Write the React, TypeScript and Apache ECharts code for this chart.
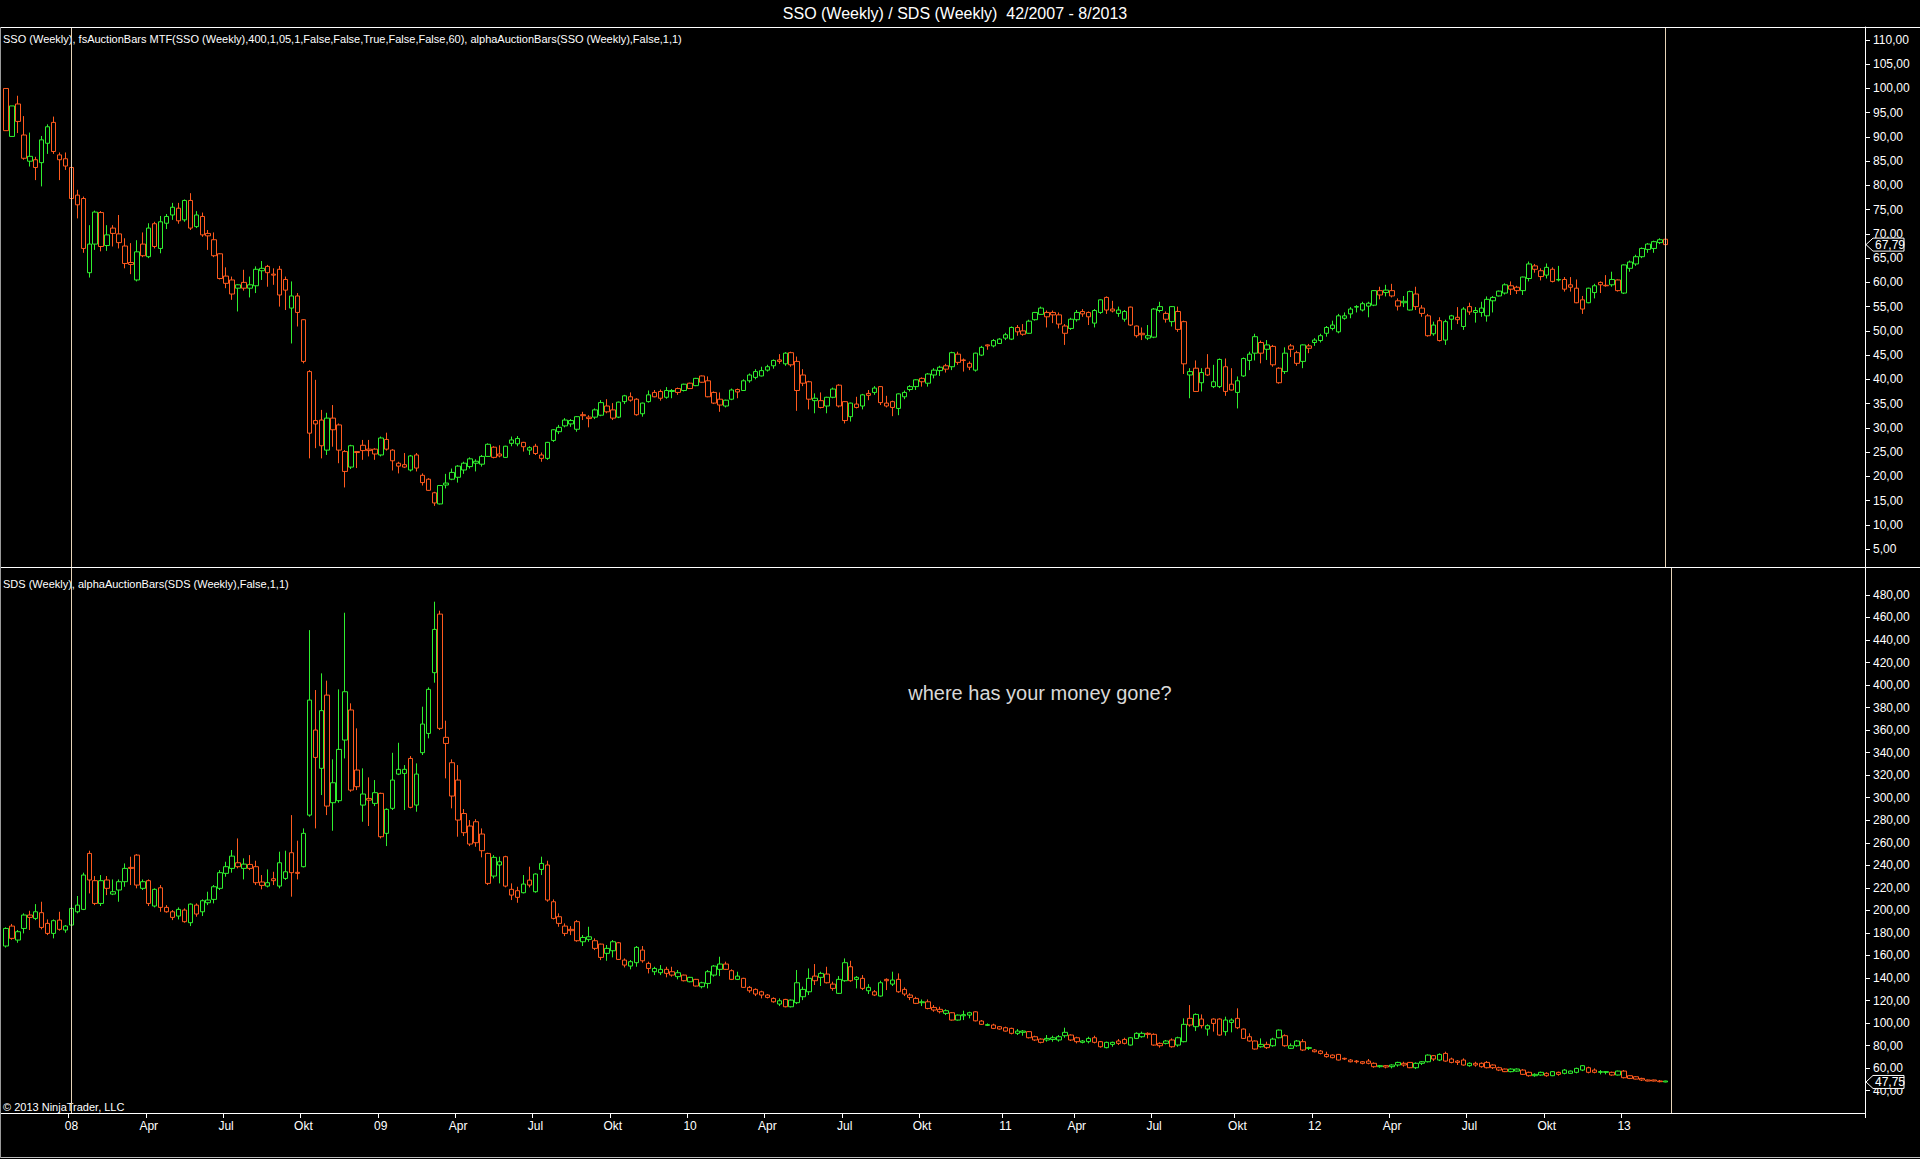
import React, { useEffect, useRef } from "react";
import * as echarts from "echarts";

const TITLE = "SSO (Weekly) / SDS (Weekly)  42/2007 - 8/2013";
const SSO_INFO =
  "SSO (Weekly), fsAuctionBars MTF(SSO (Weekly),400,1,05,1,False,False,True,False,False,60), alphaAuctionBars(SSO (Weekly),False,1,1)";
const SDS_INFO = "SDS (Weekly), alphaAuctionBars(SDS (Weekly),False,1,1)";
const NOTE = "where has your money gone?";
const COPYRIGHT = "\u00A9 2013 NinjaTrader, LLC";

// first weekly bar: week 42/2007, stamped Friday 19 Oct 2007
const FIRST_BAR_DATE = [2007, 9, 19];
const SLOT_COUNT = 313;
const MONTH_LABELS: Record<number, string> = { 3: "Apr", 6: "Jul", 9: "Okt" };

const SSO_TICKS = [5, 10, 15, 20, 25, 30, 35, 40, 45, 50, 55, 60, 65, 70, 75, 80, 85, 90, 95, 100, 105, 110];
const SDS_TICKS = [40, 60, 80, 100, 120, 140, 160, 180, 200, 220, 240, 260, 280, 300, 320, 340, 360, 380, 400, 420, 440, 460, 480];
const SSO_RANGE = [1.29, 112.68];
const SDS_RANGE = [20.2, 504.8];
const SSO_LAST = 67.79;
const SDS_LAST = 47.75;
const SSO_MARKERS = [11, 279];
const SDS_MARKERS = [11, 280];

// [open, close, low, high]
const SSO: number[][] = [
  [100.0, 91.3, 91.3, 100.0], [90.1, 96.4, 90.1, 96.4], [93.2, 96.8, 90.8, 98.5], [90.4, 85.6, 85.3, 94.3], [86.0, 85.0, 83.9, 90.9],
  [83.7, 85.3, 81.1, 85.9], [84.7, 89.4, 79.8, 90.2], [88.7, 92.1, 86.5, 92.6], [87.0, 93.0, 86.5, 94.2], [85.3, 86.3, 81.1, 86.8],
  [84.0, 85.5, 83.2, 86.8], [83.7, 77.3, 77.0, 84.0], [78.0, 76.0, 73.2, 79.1], [77.3, 67.0, 66.1, 77.7], [62.0, 67.9, 61.0, 71.8],
  [67.9, 74.5, 66.7, 74.8], [67.4, 74.4, 66.4, 74.7], [67.6, 69.8, 66.5, 71.8], [70.1, 71.2, 67.4, 71.8], [68.2, 70.0, 67.0, 73.9],
  [63.9, 67.5, 62.9, 69.1], [64.1, 63.7, 61.7, 68.1], [60.5, 66.3, 60.2, 68.7], [65.5, 67.9, 65.2, 70.3], [71.2, 65.3, 65.0, 72.2],
  [67.4, 72.1, 67.0, 72.5], [67.0, 72.5, 66.0, 73.7], [72.2, 73.6, 71.0, 74.1], [75.5, 73.9, 72.9, 76.4], [72.7, 75.3, 72.1, 76.4],
  [72.9, 76.9, 72.5, 77.1], [71.2, 76.9, 70.8, 78.4], [71.5, 73.9, 71.2, 74.7], [69.8, 73.6, 69.4, 74.4], [70.1, 69.6, 66.7, 70.8],
  [68.8, 65.5, 65.2, 70.3], [65.9, 60.8, 60.6, 66.0], [61.3, 59.8, 58.8, 63.1], [60.5, 57.6, 56.4, 61.2], [59.5, 58.8, 54.0, 59.6],
  [58.8, 60.0, 58.3, 62.6], [59.5, 58.8, 56.9, 61.2], [62.7, 59.3, 57.8, 63.3], [62.9, 62.4, 60.5, 64.4], [62.0, 63.3, 59.1, 63.6],
  [61.7, 61.5, 59.5, 62.9], [57.4, 62.7, 55.0, 63.4], [58.4, 60.6, 54.3, 61.2], [54.7, 57.2, 47.4, 60.2], [53.8, 57.2, 50.9, 57.8],
  [52.3, 43.7, 43.3, 52.4], [41.6, 28.9, 23.7, 41.9], [30.8, 31.5, 25.8, 39.9], [26.3, 31.6, 23.7, 33.7], [25.4, 32.0, 24.4, 33.1],
  [29.6, 32.0, 26.1, 34.7], [25.4, 30.6, 22.7, 30.9], [21.0, 25.1, 17.7, 25.4], [21.9, 26.3, 21.5, 26.5], [25.1, 24.9, 21.7, 25.2],
  [25.3, 26.4, 23.4, 27.5], [25.6, 25.3, 24.1, 27.5], [24.6, 25.6, 23.4, 25.8], [24.4, 27.9, 24.1, 28.2], [25.6, 27.6, 25.3, 29.0],
  [23.2, 25.4, 21.2, 25.6], [22.7, 22.1, 20.6, 23.0], [22.4, 21.9, 21.7, 24.8], [21.3, 24.2, 21.0, 24.4], [21.7, 24.4, 21.0, 24.8],
  [18.7, 20.2, 18.1, 20.6], [17.1, 19.4, 17.0, 19.6], [14.5, 16.6, 13.9, 16.8], [18.1, 14.3, 14.2, 18.2], [18.6, 18.2, 17.5, 20.5],
  [20.8, 19.4, 19.2, 21.6], [22.1, 19.8, 18.7, 22.3], [21.3, 22.7, 20.5, 23.0], [23.6, 22.0, 21.6, 23.9], [23.1, 22.7, 21.0, 23.5],
  [22.5, 24.1, 22.0, 24.4], [24.1, 26.6, 24.0, 26.8], [23.9, 26.0, 23.7, 26.2], [24.6, 24.2, 23.9, 26.4], [23.9, 26.2, 23.8, 26.3],
  [27.5, 26.8, 26.2, 28.2], [27.8, 26.7, 26.2, 28.3], [26.1, 27.0, 25.1, 27.1], [25.9, 25.4, 24.4, 26.2], [24.7, 26.2, 24.4, 26.7],
  [24.4, 23.7, 23.0, 24.9], [27.0, 23.7, 23.4, 27.1], [29.6, 27.4, 27.1, 29.7], [30.1, 29.2, 28.7, 30.6], [31.6, 30.4, 30.1, 32.0],
  [31.5, 30.8, 30.2, 31.8], [32.3, 29.7, 29.2, 32.4], [32.7, 32.5, 31.6, 33.3], [32.2, 31.9, 30.1, 32.6], [33.7, 32.2, 31.8, 34.0],
  [35.2, 32.6, 32.4, 35.7], [33.3, 34.5, 33.0, 35.9], [33.7, 32.0, 31.6, 35.1], [35.3, 32.2, 32.0, 35.4], [36.6, 35.4, 34.9, 36.8],
  [35.7, 36.4, 35.4, 37.3], [35.9, 32.7, 32.5, 36.1], [32.9, 35.1, 32.3, 35.2], [35.4, 36.8, 35.2, 37.7], [37.3, 36.4, 36.3, 37.8],
  [36.1, 37.5, 35.6, 37.9], [37.7, 36.3, 36.0, 38.4], [37.7, 37.5, 36.1, 38.0], [37.3, 38.1, 36.8, 38.3], [37.7, 39.0, 37.5, 39.1],
  [38.1, 39.2, 38.0, 39.3], [38.7, 40.2, 38.6, 40.3], [39.4, 40.7, 39.3, 40.8], [39.7, 36.4, 36.3, 40.6], [37.3, 35.1, 34.9, 37.5],
  [35.9, 34.7, 33.3, 37.3], [34.5, 35.7, 34.2, 35.8], [35.9, 37.8, 35.7, 38.1], [37.9, 37.4, 36.1, 38.1], [39.7, 37.7, 37.6, 40.0],
  [39.7, 40.9, 39.3, 41.2], [41.6, 40.4, 40.0, 42.1], [40.7, 41.8, 40.6, 42.6], [42.6, 41.9, 41.6, 43.0], [42.8, 43.9, 42.2, 44.1],
  [44.0, 43.7, 43.2, 45.2], [45.4, 43.2, 42.8, 45.6], [43.0, 45.5, 42.6, 45.7], [43.7, 37.7, 33.5, 44.7], [39.2, 40.9, 38.6, 42.1],
  [35.9, 39.5, 33.8, 39.7], [36.1, 35.6, 33.0, 37.1], [34.2, 35.6, 34.0, 37.3], [34.5, 36.3, 33.0, 36.4], [36.3, 38.0, 36.1, 38.3],
  [34.5, 38.8, 34.2, 39.0], [31.5, 35.4, 30.9, 35.5], [32.3, 35.1, 31.3, 35.2], [34.9, 34.2, 34.0, 36.4], [34.5, 36.8, 33.8, 37.0],
  [37.1, 36.7, 35.7, 37.8], [38.2, 37.3, 36.8, 38.6], [35.2, 38.5, 34.7, 38.6], [35.1, 34.5, 34.2, 36.6], [34.2, 35.4, 32.4, 35.6],
  [34.0, 37.0, 32.6, 37.1], [37.3, 36.4, 35.9, 37.7], [38.5, 37.9, 37.5, 38.8], [38.5, 39.9, 37.8, 40.0], [40.2, 39.5, 38.5, 40.4],
  [39.2, 41.1, 38.5, 41.3], [41.9, 40.9, 40.2, 42.3], [42.5, 41.8, 40.7, 42.8], [42.1, 42.8, 41.4, 43.2], [42.6, 45.5, 41.9, 45.7],
  [43.5, 45.2, 43.0, 45.7], [44.0, 43.9, 41.6, 44.3], [42.5, 43.3, 41.9, 43.7], [41.9, 45.4, 41.6, 45.5], [45.0, 46.6, 44.8, 46.9],
  [47.1, 46.9, 46.1, 47.2], [46.9, 48.0, 46.6, 48.3], [48.3, 47.4, 47.3, 48.5], [49.2, 48.5, 48.1, 49.6], [50.7, 48.3, 48.1, 50.9],
  [49.8, 50.7, 49.0, 51.2], [49.3, 50.0, 49.0, 51.4], [52.0, 49.5, 49.4, 52.3], [53.8, 52.3, 52.1, 53.9], [54.7, 53.4, 53.3, 55.0],
  [52.9, 53.8, 50.7, 54.2], [53.3, 53.8, 51.6, 54.2], [51.4, 53.3, 50.5, 53.8], [49.5, 51.0, 47.1, 51.4], [52.4, 50.5, 50.2, 52.7],
  [53.8, 52.3, 51.9, 54.3], [54.0, 53.5, 52.9, 54.5], [52.9, 53.8, 51.2, 54.0], [51.6, 54.2, 50.7, 54.5], [56.4, 53.8, 53.5, 56.5],
  [54.3, 56.9, 53.5, 57.1], [54.5, 54.1, 53.8, 56.2], [54.3, 53.6, 52.9, 55.0], [52.4, 54.0, 51.9, 54.3], [54.9, 51.2, 51.0, 55.0],
  [51.0, 49.0, 48.6, 51.1], [49.5, 49.2, 48.1, 50.7], [49.0, 48.5, 48.1, 51.2], [54.5, 48.7, 48.5, 54.7], [55.0, 54.2, 53.8, 56.0],
  [52.4, 53.6, 51.7, 54.0], [51.9, 55.0, 50.9, 55.1], [50.3, 54.0, 49.8, 55.0], [51.9, 43.2, 41.1, 52.1], [41.6, 40.9, 36.1, 42.3],
  [42.3, 37.5, 37.4, 43.9], [39.3, 41.4, 37.5, 42.3], [40.9, 42.3, 40.7, 45.2], [39.5, 38.5, 38.2, 43.0], [38.5, 44.1, 38.2, 44.3],
  [37.5, 42.6, 36.6, 44.3], [39.0, 37.8, 37.7, 42.3], [37.3, 39.7, 34.0, 40.6], [40.7, 44.3, 40.5, 44.5], [43.9, 45.2, 41.9, 45.7],
  [48.8, 45.4, 43.9, 49.4], [45.4, 47.6, 43.3, 48.0], [47.1, 46.2, 44.0, 48.1], [43.0, 46.8, 42.6, 47.1], [39.3, 42.3, 39.1, 42.5],
  [45.4, 41.6, 41.1, 46.6], [46.9, 46.2, 44.6, 47.3], [43.3, 45.5, 42.8, 45.9], [43.7, 47.1, 42.3, 47.2], [46.9, 46.4, 45.4, 47.3],
  [48.1, 47.6, 46.9, 48.5], [49.0, 48.0, 47.6, 49.4], [49.5, 50.7, 48.8, 51.0], [51.2, 50.5, 50.1, 52.1], [53.1, 49.8, 49.5, 53.5],
  [53.1, 52.6, 52.3, 53.8], [53.5, 54.5, 52.6, 54.9], [55.0, 54.9, 53.8, 55.3], [54.3, 55.6, 54.0, 56.0], [55.7, 55.1, 52.8, 56.0],
  [58.3, 55.3, 55.1, 58.4], [57.4, 58.3, 56.5, 59.1], [58.4, 57.9, 57.1, 59.5], [57.2, 58.3, 56.9, 59.7], [55.1, 56.2, 54.2, 56.7],
  [56.1, 55.8, 54.9, 57.2], [54.3, 58.1, 54.2, 58.3], [55.0, 57.6, 54.3, 59.1], [54.7, 53.6, 52.9, 55.3], [53.1, 49.0, 48.8, 53.5],
  [49.4, 51.2, 49.0, 51.9], [52.1, 48.0, 47.8, 52.8], [48.1, 51.9, 47.1, 52.3], [53.1, 52.4, 50.2, 53.3], [52.8, 52.3, 51.4, 54.9],
  [54.5, 50.9, 50.2, 54.9], [53.9, 55.0, 53.3, 55.8], [54.2, 53.8, 51.7, 54.9], [53.8, 54.7, 52.9, 56.0], [56.5, 53.1, 51.9, 57.1],
  [56.2, 56.9, 53.8, 57.2], [58.2, 57.2, 57.1, 58.3], [57.8, 59.5, 57.5, 59.8], [59.3, 58.6, 57.4, 60.2], [58.3, 59.0, 57.6, 59.3],
  [61.1, 58.3, 57.4, 61.2], [63.8, 60.8, 60.2, 64.3], [62.7, 63.4, 62.0, 63.8], [61.2, 62.4, 60.4, 62.9], [61.5, 63.1, 60.8, 63.9],
  [60.2, 62.7, 60.0, 63.1], [60.6, 60.5, 60.2, 63.4], [60.6, 58.6, 58.1, 61.1], [59.0, 59.5, 58.1, 61.1], [58.8, 55.8, 55.7, 60.6],
  [56.4, 54.5, 53.5, 57.2], [58.8, 55.8, 55.7, 58.9], [57.9, 59.3, 56.7, 59.7], [59.5, 60.0, 57.8, 60.2], [59.4, 59.3, 59.1, 61.5],
  [59.5, 60.6, 59.1, 62.2], [60.5, 58.3, 58.1, 60.6], [63.6, 57.8, 57.6, 63.7], [62.9, 64.2, 62.2, 64.5], [63.8, 65.3, 63.4, 65.7],
  [65.3, 67.0, 65.0, 67.2], [67.9, 66.8, 66.1, 68.1], [68.4, 67.0, 66.1, 68.6], [68.8, 68.2, 67.9, 69.1], [68.9, 67.79, 67.7, 69.0],
];
const SSO_COLORS =
  "rgrrgrggrr" + "rrrrggrgrr" + "rrgrgrgggr" + "grgrrrrrrg" + "rgggrrrrgr" +
  "rrrrgrrrgr" + "rrrgrrrrgr" + "rrrggggggg" + "ggrrgggrgr" + "rggggggrrg" +
  "grrggrrggr" + "rggrgrgrrr" + "rggrgggggg" + "rgrrrrgrgg" + "rrgrgrgrrr" +
  "ggggrgggrg" + "rrrggrgggg" + "rrgggrrrrg" + "grrggrrggr" + "rrgggrgrrg" +
  "rgrggrrggg" + "grgrrgrrgr" + "gggggggggg" + "grgrrggrrr" + "grggrgrggg" +
  "gggrrggrrg" + "rgrrrrggrr" + "grgggggggr";

const SDS: number[][] = [
  [184.0, 168.4, 167.0, 185.0], [175.2, 186.1, 174.0, 188.0], [173.7, 181.1, 171.3, 182.6], [195.9, 184.0, 179.6, 197.4], [195.9, 193.8, 182.6, 199.7],
  [192.9, 198.8, 191.4, 205.6], [184.9, 198.0, 183.2, 207.7], [179.6, 188.5, 178.1, 192.0], [179.6, 190.9, 175.2, 192.0], [183.2, 191.4, 182.0, 198.8],
  [186.1, 182.6, 180.2, 187.0], [187.0, 201.8, 186.0, 203.0], [198.8, 204.7, 197.4, 212.8], [231.4, 200.9, 200.3, 233.5], [227.0, 250.6, 215.1, 253.0],
  [206.2, 226.4, 204.7, 230.5], [206.2, 226.4, 203.9, 231.4], [219.6, 227.0, 213.6, 230.5], [216.6, 214.5, 213.6, 227.5], [218.1, 225.5, 207.7, 227.5],
  [225.5, 237.3, 221.0, 241.7], [238.2, 237.3, 222.5, 247.7], [222.5, 249.1, 219.6, 250.0], [225.5, 219.6, 218.1, 227.5], [206.2, 226.4, 203.9, 227.5],
  [203.9, 218.7, 202.7, 219.6], [202.7, 220.1, 198.8, 222.5], [202.7, 198.8, 198.0, 204.7], [193.8, 198.8, 191.4, 200.3], [195.0, 200.9, 192.0, 202.7],
  [190.0, 200.3, 189.1, 201.8], [205.6, 189.1, 186.1, 206.2], [196.8, 204.7, 194.4, 206.2], [198.8, 208.6, 195.0, 209.8], [209.2, 206.8, 204.7, 216.6],
  [221.0, 209.8, 206.2, 222.5], [233.5, 219.6, 218.1, 235.8], [238.8, 232.9, 229.9, 243.2], [248.2, 237.3, 233.5, 253.6], [242.3, 238.8, 237.3, 263.9],
  [241.1, 237.3, 227.5, 246.2], [237.3, 240.8, 235.8, 249.1], [238.8, 224.6, 222.5, 244.1], [225.2, 222.2, 218.7, 231.4], [224.6, 221.6, 220.4, 236.4],
  [228.1, 226.4, 222.5, 234.3], [221.6, 242.3, 219.6, 252.1], [234.3, 228.4, 227.0, 253.0], [233.5, 251.2, 212.2, 284.6], [233.8, 232.9, 227.5, 261.9],
  [238.8, 268.4, 238.2, 272.8], [386.7, 284.6, 283.2, 448.8], [335.8, 360.1, 272.8, 395.6], [326.1, 377.3, 302.4, 410.4], [292.6, 391.1, 284.6, 403.9],
  [295.6, 313.3, 270.7, 334.1], [297.4, 342.9, 295.6, 396.2], [351.2, 394.1, 334.9, 464.2], [306.8, 377.9, 305.3, 383.8], [309.8, 324.6, 306.8, 361.6],
  [303.3, 293.5, 278.7, 326.1], [299.4, 297.9, 274.9, 318.1], [295.0, 304.5, 292.6, 315.7], [265.4, 303.9, 263.9, 304.5], [268.4, 289.7, 257.1, 290.6],
  [290.6, 315.7, 289.1, 339.9], [325.2, 321.0, 320.1, 348.8], [325.2, 321.6, 289.1, 329.0], [291.5, 334.9, 290.6, 337.0], [293.5, 321.0, 287.6, 330.5],
  [340.0, 365.4, 337.9, 380.8], [357.1, 396.2, 352.7, 398.0], [411.0, 449.4, 402.1, 474.0], [361.6, 463.0, 360.1, 466.0], [353.6, 348.2, 317.2, 368.4],
  [301.5, 331.1, 290.6, 334.1], [280.2, 315.7, 265.4, 329.0], [269.0, 286.0, 266.0, 290.0], [258.9, 274.9, 257.1, 280.2], [260.1, 278.7, 256.5, 281.0],
  [253.0, 267.8, 247.1, 272.8], [224.0, 250.6, 222.5, 251.2], [230.5, 247.1, 228.4, 249.1], [243.2, 240.3, 224.0, 247.7], [221.6, 247.7, 220.5, 248.5],
  [218.7, 213.6, 209.2, 224.0], [217.5, 211.6, 206.8, 221.0], [223.4, 215.7, 215.1, 231.4], [226.9, 222.5, 220.4, 238.8], [216.6, 232.3, 215.7, 232.9],
  [241.7, 236.4, 231.4, 247.7], [240.3, 209.2, 207.7, 244.1], [192.9, 207.7, 192.0, 209.8], [188.5, 194.4, 185.5, 197.4], [179.6, 186.1, 177.2, 188.5],
  [183.2, 182.0, 178.1, 186.1], [173.1, 190.0, 172.2, 191.4], [176.0, 172.2, 168.4, 178.1], [176.6, 174.3, 172.2, 185.5], [166.3, 173.1, 164.8, 175.2],
  [158.3, 170.1, 155.9, 170.5], [166.3, 161.9, 155.3, 169.3], [172.2, 164.2, 158.3, 173.7], [156.5, 171.3, 156.0, 172.0], [151.5, 155.9, 149.4, 157.4],
  [154.5, 150.6, 147.7, 155.9], [167.2, 153.6, 150.0, 168.4], [155.3, 164.8, 153.6, 168.4], [148.5, 153.0, 144.1, 154.5], [148.5, 145.6, 142.6, 150.0],
  [147.7, 144.7, 142.6, 151.5], [147.7, 144.1, 140.6, 150.0], [145.6, 142.6, 141.2, 150.0], [144.7, 141.2, 138.8, 147.1], [137.6, 142.6, 137.0, 143.0],
  [136.7, 140.6, 136.2, 141.0], [132.9, 138.8, 132.5, 139.2], [135.8, 132.3, 130.8, 136.7], [145.6, 135.2, 130.8, 147.1], [142.6, 150.6, 141.2, 151.5],
  [152.4, 147.7, 141.7, 158.9], [147.7, 152.4, 147.1, 154.5], [138.8, 146.5, 138.2, 147.7], [141.7, 138.8, 138.2, 145.6], [131.7, 139.7, 131.2, 140.2],
  [131.7, 128.7, 126.9, 132.9], [125.8, 129.9, 124.0, 130.8], [127.8, 124.9, 121.9, 128.7], [124.9, 122.8, 121.9, 125.8], [121.9, 118.9, 118.1, 122.8],
  [119.8, 116.9, 115.1, 121.9], [121.0, 114.5, 114.0, 121.5], [114.5, 120.4, 113.9, 121.0], [135.8, 118.1, 116.9, 147.1], [123.4, 129.9, 120.4, 132.3],
  [127.8, 139.7, 124.9, 148.5], [141.7, 137.6, 133.8, 152.4], [144.1, 140.6, 132.9, 145.6], [135.8, 143.5, 135.2, 150.0], [134.6, 130.8, 128.7, 136.7],
  [126.4, 138.8, 125.8, 141.7], [153.6, 137.6, 136.7, 157.4], [137.6, 150.0, 136.7, 155.3], [140.6, 138.8, 130.8, 141.7], [139.7, 130.8, 129.3, 142.6],
  [131.7, 128.7, 125.8, 134.6], [127.8, 124.9, 124.0, 129.3], [135.8, 124.0, 123.4, 137.6], [138.8, 137.6, 129.3, 139.7], [138.2, 134.6, 132.9, 145.6],
  [127.8, 138.8, 126.9, 144.1], [125.8, 129.9, 124.0, 131.7], [124.9, 122.8, 120.4, 126.4], [117.5, 121.9, 116.9, 123.4], [118.9, 118.1, 115.1, 121.0],
  [118.9, 113.0, 112.2, 121.0], [113.9, 111.6, 110.1, 116.0], [112.2, 110.1, 108.6, 114.5], [111.0, 108.6, 107.1, 112.2], [109.2, 102.7, 102.2, 109.7],
  [102.7, 107.1, 102.2, 107.6], [107.5, 106.5, 102.7, 111.0], [109.2, 107.1, 104.2, 110.1], [102.0, 110.0, 101.5, 110.5], [101.8, 98.9, 98.3, 102.7],
  [98.6, 98.0, 97.4, 99.7], [98.3, 95.3, 94.7, 99.4], [94.7, 96.8, 94.1, 97.4], [95.9, 92.9, 92.4, 96.8], [90.9, 95.3, 90.0, 95.9],
  [92.9, 90.9, 89.4, 94.7], [92.9, 91.8, 88.8, 93.8], [92.4, 87.0, 86.4, 92.9], [85.0, 87.9, 84.1, 88.8], [82.9, 85.8, 82.0, 86.4],
  [86.4, 85.0, 83.5, 89.4], [87.0, 85.5, 83.5, 88.8], [85.0, 87.9, 83.5, 89.4], [91.8, 88.8, 87.0, 95.9], [89.4, 85.0, 84.1, 90.0],
  [83.5, 87.0, 82.0, 87.9], [84.1, 82.9, 82.0, 85.0], [86.4, 83.5, 82.0, 87.9], [82.9, 87.0, 82.0, 88.8], [83.5, 79.0, 78.2, 84.1],
  [78.2, 82.9, 77.6, 83.5], [82.9, 81.1, 79.0, 83.5], [84.1, 82.0, 80.5, 85.8], [82.0, 85.5, 81.1, 87.0], [87.0, 80.5, 80.0, 87.5],
  [90.9, 86.4, 85.8, 91.8], [90.9, 87.9, 87.0, 92.4], [90.9, 90.0, 86.4, 91.8], [90.0, 80.5, 79.9, 90.9], [79.9, 82.0, 78.2, 82.9],
  [84.1, 82.0, 81.1, 85.0], [79.0, 85.0, 78.2, 86.4], [80.5, 87.0, 79.0, 87.9], [98.9, 83.5, 82.9, 104.2], [98.3, 104.2, 96.8, 116.0],
  [96.8, 107.7, 92.9, 108.6], [97.7, 103.6, 95.3, 107.7], [97.7, 94.7, 88.8, 98.9], [99.7, 103.6, 92.4, 104.2], [89.4, 103.6, 88.8, 104.2],
  [92.4, 102.7, 88.8, 105.7], [102.7, 100.6, 91.8, 104.2], [95.9, 104.2, 94.7, 113.1], [86.4, 94.7, 86.0, 95.2], [84.1, 87.9, 83.5, 90.9],
  [84.1, 77.0, 76.5, 84.6], [81.1, 79.0, 78.2, 86.4], [78.2, 81.1, 77.0, 83.5], [79.9, 85.8, 79.0, 87.0], [87.0, 93.8, 86.5, 94.3],
  [88.8, 79.9, 79.0, 90.0], [79.9, 77.6, 77.0, 82.0], [79.9, 84.1, 79.0, 85.0], [76.1, 83.5, 75.2, 85.8], [78.2, 77.6, 76.1, 79.0],
  [76.1, 74.6, 74.0, 77.0], [75.2, 73.1, 72.2, 76.1], [70.2, 72.2, 69.3, 74.6], [71.6, 69.3, 68.7, 72.2], [67.2, 72.2, 66.8, 72.6],
  [68.7, 68.1, 67.2, 69.3], [67.2, 65.7, 65.1, 68.1], [66.3, 65.7, 64.3, 67.2], [65.7, 64.3, 63.4, 66.3], [66.3, 64.3, 63.4, 68.1],
  [64.3, 61.3, 60.4, 65.1], [62.2, 61.3, 60.4, 62.8], [62.2, 61.0, 59.8, 62.8], [62.8, 61.3, 59.8, 63.4], [65.1, 62.8, 61.3, 65.7],
  [64.3, 62.8, 61.3, 65.7], [60.4, 65.1, 60.0, 65.5], [60.4, 64.3, 59.2, 65.1], [65.7, 64.3, 62.8, 66.3], [71.6, 65.7, 65.1, 72.2],
  [68.1, 71.1, 66.3, 71.6], [72.2, 67.2, 66.3, 73.1], [66.3, 73.1, 65.7, 74.6], [68.1, 65.1, 64.3, 69.3], [66.3, 65.1, 62.8, 67.2],
  [67.2, 62.8, 62.2, 68.7], [64.3, 62.2, 61.3, 65.1], [64.3, 62.8, 61.3, 65.7], [64.3, 61.3, 60.4, 65.1], [65.1, 60.4, 59.8, 66.3],
  [62.8, 60.4, 59.2, 63.4], [60.4, 58.3, 57.4, 61.3], [56.9, 59.2, 56.5, 59.6], [59.2, 56.9, 56.3, 59.8], [59.2, 57.4, 56.9, 59.8],
  [58.3, 54.5, 53.9, 59.2], [56.3, 53.3, 52.4, 56.9], [54.5, 53.3, 52.4, 55.4], [56.3, 53.9, 53.3, 56.9], [55.4, 53.3, 52.4, 56.3],
  [53.3, 56.9, 52.9, 57.3], [56.3, 54.5, 53.3, 56.9], [58.3, 55.4, 54.5, 59.2], [55.4, 57.4, 55.0, 57.8], [59.8, 56.3, 55.4, 60.4],
  [62.2, 58.3, 57.4, 62.8], [60.4, 56.3, 55.4, 61.3], [58.3, 56.3, 55.4, 59.8], [56.9, 56.3, 54.5, 58.3], [56.9, 56.3, 54.5, 57.4],
  [56.3, 53.9, 53.3, 56.9], [53.9, 57.4, 53.5, 57.8], [57.4, 51.5, 50.9, 58.3], [53.3, 50.9, 50.3, 53.9], [50.3, 52.4, 50.0, 52.8],
  [50.9, 49.5, 48.6, 51.5], [49.5, 48.6, 48.3, 49.8], [49.5, 48.6, 48.3, 49.8], [48.6, 48.0, 47.4, 49.5], [48.6, 47.75, 47.5, 48.8],
];
const SDS_COLORS =
  "grggrgrrgr" + "ggggrrgrgg" + "grrgrgrrrg" + "rgrggggggr" + "grrrgrggrr" +
  "ggrgrgggrr" + "grgrggggrg" + "gggrrrrrrr" + "rrggrrrgrg" + "grrrrrrggr" +
  "rggrrggrrg" + "grrgrgrggg" + "grrgrrrrrr" + "grggggrgrr" + "ggrgrgrgrg" +
  "rrrrgrrrgr" + "gggrrgrrrr" + "ggrrrggggr" + "rggrrggrrg" + "ggrrrgrggr" +
  "grgrrggrrr" + "rgrggrggrg" + "rrrrrrrrrr" + "rgrggrrggg" + "rgrrrrgrrr" +
  "rrrggrrggr" + "grggggrrgg" + "rgrrrrrrrg";

const GREEN = "#2ff02f";
const ORANGE = "#ff5a1e";
const MARKER_LINE = "#e6d3b8";
const WHITE = "#ffffff";
const FONT = "'Liberation Sans', Arial, sans-serif";

const GRID_LEFT = 3;
const GRID_WIDTH = 1862;
const TOP_GRID = { top: 27, height: 540 };
const BOTTOM_GRID = { top: 567, height: 546 };

function buildCategories() {
  const cats: string[] = [];
  const labels: Record<number, string> = {};
  let prevMonth = -1;
  for (let i = 0; i < SLOT_COUNT; i++) {
    const d = new Date(Date.UTC(FIRST_BAR_DATE[0], FIRST_BAR_DATE[1], FIRST_BAR_DATE[2] + 7 * i));
    const m = d.getUTCMonth();
    cats.push(d.toISOString().slice(0, 10));
    if (i > 0 && i < SSO.length && m !== prevMonth && m % 3 === 0) {
      labels[i] = m === 0 ? String(d.getUTCFullYear() % 100).padStart(2, "0") : MONTH_LABELS[m];
    }
    prevMonth = m;
  }
  return { cats, labels };
}

function candleItems(rows: number[][], colors: string) {
  return rows.map((v, i) => {
    const c = colors[i] === "g" ? GREEN : ORANGE;
    return { value: v, itemStyle: { color: "#000000", color0: c, borderColor: c, borderColor0: c, borderWidth: 1 } };
  });
}

const fmt = (v: number) => v.toFixed(2).replace(".", ",");

export default function App() {
  const ref = useRef<HTMLDivElement>(null);

  useEffect(() => {
    if (!ref.current) return;
    const chart = echarts.init(ref.current, null, { renderer: "svg" });
    const { cats, labels } = buildCategories();
    const showIdx = (i: number) => labels[i] !== undefined;

    const markLine = (idx: number[]) => ({
      symbol: ["none", "none"],
      silent: true,
      animation: false,
      label: { show: false },
      lineStyle: { color: MARKER_LINE, width: 1, type: "solid" },
      emphasis: { disabled: true },
      data: idx.map((i) => ({ xAxis: cats[i] })),
    });

    const yAxisCommon = (ticks: number[]) => ({
      type: "value",
      position: "right",
      splitLine: { show: false },
      axisLine: { show: true, lineStyle: { color: WHITE, width: 1 } },
      axisTick: { show: true, length: 5, customValues: ticks, lineStyle: { color: WHITE } },
      axisLabel: {
        customValues: ticks,
        formatter: (v: number) => fmt(v),
        color: WHITE,
        fontSize: 12,
        fontFamily: FONT,
        margin: 8,
      },
    });

    chart.setOption({
      animation: false,
      backgroundColor: "#000000",
      grid: [
        { left: GRID_LEFT, width: GRID_WIDTH, top: TOP_GRID.top, height: TOP_GRID.height },
        { left: GRID_LEFT, width: GRID_WIDTH, top: BOTTOM_GRID.top, height: BOTTOM_GRID.height },
      ],
      xAxis: [
        {
          type: "category",
          gridIndex: 0,
          data: cats,
          boundaryGap: true,
          axisLine: { show: false },
          axisTick: { show: false },
          axisLabel: { show: false },
          splitLine: { show: false },
        },
        {
          type: "category",
          gridIndex: 1,
          data: cats,
          boundaryGap: true,
          axisLine: { show: true, lineStyle: { color: WHITE, width: 1 } },
          axisTick: { show: true, length: 5, interval: (i: number) => showIdx(i), lineStyle: { color: WHITE } },
          axisLabel: {
            interval: (i: number) => showIdx(i),
            formatter: (_v: string, i: number) => labels[i] ?? "",
            color: WHITE,
            fontSize: 12,
            fontFamily: FONT,
            margin: 7,
          },
          splitLine: { show: false },
        },
      ],
      yAxis: [
        { ...yAxisCommon(SSO_TICKS), gridIndex: 0, min: SSO_RANGE[0], max: SSO_RANGE[1] },
        { ...yAxisCommon(SDS_TICKS), gridIndex: 1, min: SDS_RANGE[0], max: SDS_RANGE[1] },
      ],
      series: [
        {
          type: "candlestick",
          name: "SSO",
          xAxisIndex: 0,
          yAxisIndex: 0,
          barWidth: 5,
          data: candleItems(SSO, SSO_COLORS),
          markLine: markLine(SSO_MARKERS),
        },
        {
          type: "candlestick",
          name: "SDS",
          xAxisIndex: 1,
          yAxisIndex: 1,
          barWidth: 5,
          data: candleItems(SDS, SDS_COLORS),
          markLine: markLine(SDS_MARKERS),
        },
      ],
    });

    const axisX = GRID_LEFT + GRID_WIDTH;
    const ySso = chart.convertToPixel({ yAxisIndex: 0 }, SSO_LAST) as number;
    const ySds = chart.convertToPixel({ yAxisIndex: 1 }, SDS_LAST) as number;

    const lastMarker = (y: number, value: number) => [
      {
        type: "polygon",
        z: 100,
        shape: { points: [[axisX + 1, y], [axisX + 8, y - 6.5], [axisX + 39, y - 6.5], [axisX + 39, y + 6.5], [axisX + 8, y + 6.5]] },
        style: { fill: "#000000", stroke: WHITE, lineWidth: 1 },
      },
      {
        type: "text",
        z: 101,
        x: axisX + 10,
        y: y,
        style: { text: fmt(value), fill: WHITE, fontSize: 12, fontFamily: FONT, verticalAlign: "middle", align: "left" },
      },
    ];

    const hLine = (x1: number, x2: number, y: number, color = WHITE) => ({
      type: "line",
      z: 50,
      shape: { x1, y1: y, x2, y2: y },
      style: { stroke: color, lineWidth: 1 },
    });

    chart.setOption({
      graphic: {
        elements: [
          hLine(0, 1920, 27.5),
          hLine(0, 1920, 567.5),
          hLine(0, axisX, 1113.5),
          hLine(0, 1920, 1157.5, "#bdbdbd"),
          { type: "line", z: 50, shape: { x1: 0.5, y1: 27, x2: 0.5, y2: 1158 }, style: { stroke: "#9a9a9a", lineWidth: 1 } },
          {
            type: "text",
            x: 955,
            y: 13,
            style: { text: TITLE, fill: WHITE, fontSize: 16, fontFamily: FONT, align: "center", verticalAlign: "middle" },
          },
          {
            type: "text",
            x: 3,
            y: 39,
            style: { text: SSO_INFO, fill: WHITE, fontSize: 11, fontFamily: FONT, align: "left", verticalAlign: "middle" },
          },
          {
            type: "text",
            x: 3,
            y: 584,
            style: { text: SDS_INFO, fill: WHITE, fontSize: 11, fontFamily: FONT, align: "left", verticalAlign: "middle" },
          },
          {
            type: "text",
            x: 1040,
            y: 693,
            style: { text: NOTE, fill: "#d9d9d9", fontSize: 20, fontFamily: FONT, align: "center", verticalAlign: "middle" },
          },
          {
            type: "text",
            x: 3,
            y: 1107,
            style: { text: COPYRIGHT, fill: WHITE, fontSize: 11, fontFamily: FONT, align: "left", verticalAlign: "middle" },
          },
          ...lastMarker(ySso, SSO_LAST),
          ...lastMarker(ySds, SDS_LAST),
        ],
      },
    });

    return () => chart.dispose();
  }, []);

  return (
    <div
      ref={ref}
      style={{ position: "fixed", left: 0, top: 0, width: 1920, height: 1159, background: "#000000" }}
    />
  );
}
